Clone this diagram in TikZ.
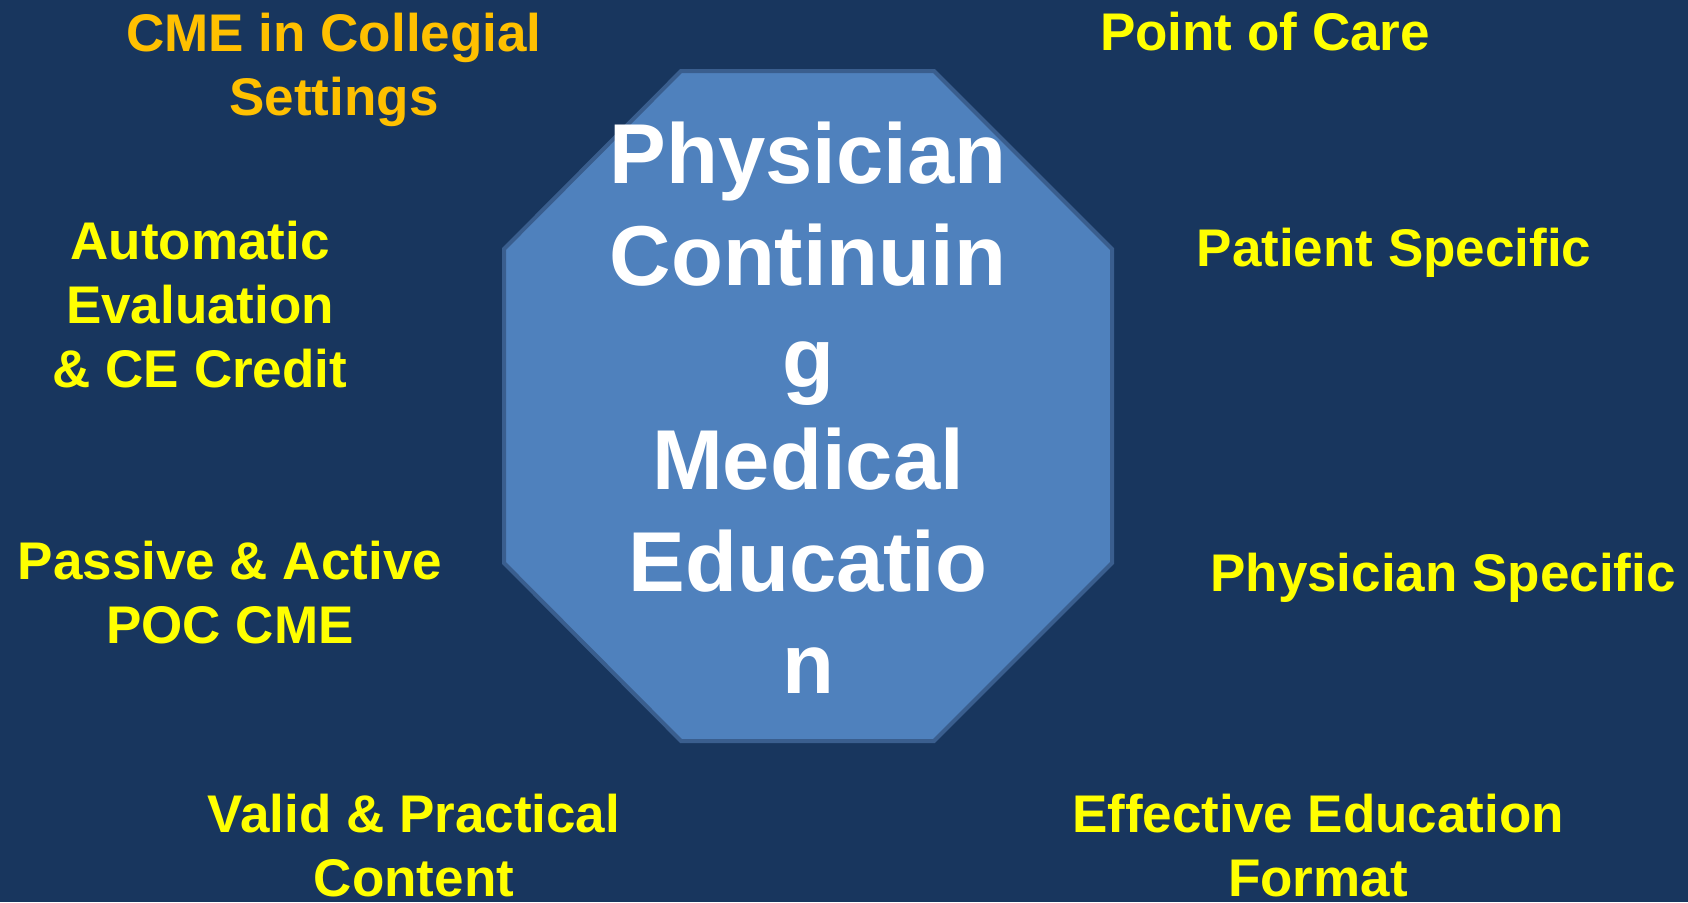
\documentclass[tikz,border=0pt]{standalone}
\usepackage{fontspec}
\setmainfont{Liberation Sans}
\usepackage{tikz}

\definecolor{navybg}{HTML}{18365E}
\definecolor{octfill}{HTML}{4F81BD}
\definecolor{octline}{HTML}{3A5E8E}
\definecolor{lblyellow}{HTML}{FFFF00}
\definecolor{lblorange}{HTML}{FFC000}

\tikzset{
  lbl/.style={text=lblyellow, anchor=base, align=center, inner sep=0pt,
    font=\fontsize{53}{64}\selectfont\bfseries},
  hub/.style={text=white, anchor=base, align=center, inner sep=0pt,
    font=\fontsize{85}{102}\selectfont\bfseries}
}

\begin{document}
\begin{tikzpicture}[x=1pt,y=-1pt]
	\path[use as bounding box, fill=navybg] (0,0) rectangle (1688,902);
	\draw[fill=octfill, draw=octline, line width=4pt, line join=miter] (681,71) -- (934,71) -- (1112,249) -- (1112,563) -- (934,741) -- (681,741) -- (504,563) -- (504,249) -- cycle;
	% base anchor sits on the last line
	\node (pcme) at (808,693) [hub] {Physician\\Continuin\\g\\Medical\\Educatio\\n};
	\node (cme) at (334,115) [lbl, text=lblorange] {CME in Collegial\\Settings};
	\node (poc) at (1265,50) [lbl] {Point of Care};
	\node (auto) at (200,387) [lbl] {Automatic\\Evaluation\\\& CE Credit};
	\node (pat) at (1394,266) [lbl] {Patient Specific};
	\node (pass) at (230,643) [lbl] {Passive \& Active\\POC CME};
	\node (phys) at (1443,591) [lbl] {Physician Specific};
	\node (valid) at (414,896) [lbl] {Valid \& Practical\\Content};
	\node (eff) at (1318,896) [lbl] {Effective Education\\Format};
\end{tikzpicture}
\end{document}
